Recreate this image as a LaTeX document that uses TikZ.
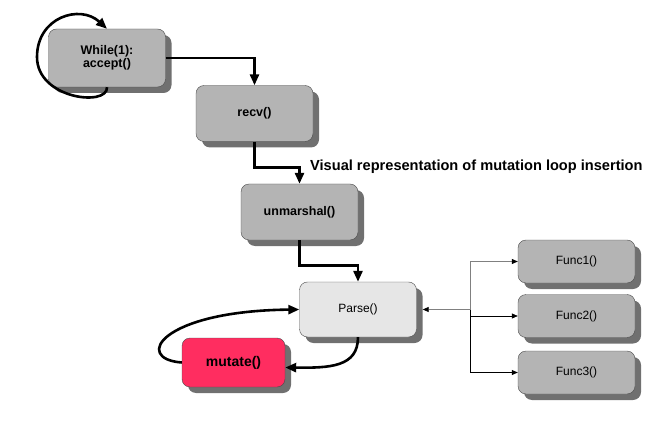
\documentclass[tikz,border=0pt]{standalone}
\usepackage{fontspec}
\setmainfont{Liberation Sans}
\usepackage{xcolor,tikz}
\usetikzlibrary{arrows.meta,positioning,shadows}
\definecolor{boxgray}{RGB}{180,180,180}
\definecolor{lightbox}{RGB}{230,230,230}
\definecolor{shadowgray}{RGB}{112,112,112}
\definecolor{mutred}{RGB}{255,45,96}

\begin{document}
\begin{tikzpicture}[x=1pt,y=1pt,
 box/.style={draw=black!70,rounded corners=8pt,fill=boxgray,minimum width=117pt,
  minimum height=56pt,inner sep=0pt,align=center,
  drop shadow={shadow xshift=6pt,shadow yshift=-6pt,fill=shadowgray,opacity=1},
  font=\fontsize{12.5}{13}\selectfont\bfseries},
 funcbox/.style={box,minimum height=43pt,font=\fontsize{12}{14}\selectfont},
 flow/.style={line width=2.6pt,-{Triangle[length=11pt,width=9pt]}},
 tree/.style={line width=0.7pt,-{Triangle[length=6pt,width=5pt,color=black]}}]
 \useasboundingbox (0,0) rectangle (669,429);
 \node[box,minimum height=58pt] (loop) at (107,371) {While(1):\\accept()};
 \node[box] (recv) at (254.5,315.5) {recv()};
 \node[box] (unmarshal) at (299.5,217) {unmarshal()};
 \node[box,fill=lightbox,minimum height=55pt,font=\fontsize{12}{14}\selectfont] (parse) at (358,119.5) {Parse()};
 \node[box,fill=mutred,minimum width=103pt,minimum height=49pt,font=\fontsize{14}{16}\selectfont\bfseries] (mutate) at (233.5,66.5) {mutate()};
 \node[funcbox] (func1) at (576.5,167.5) {Func1()};
 \node[funcbox] (func2) at (576.5,113) {Func2()};
 \node[funcbox] (func3) at (576.5,56.5) {Func3()};
 \node[anchor=west,inner sep=0pt,font=\fontsize{14.6}{16}\selectfont\bfseries] (caption) at (310,262) {Visual representation of mutation loop insertion};
 \draw[flow] (loop.south) .. controls (108,322) and (37,330) .. (37,372)
  .. controls (37,412) and (80,425) .. (loop.north);
 \draw[flow] (loop.east) -| (recv.north);
 \draw[flow] (recv.south) -- ++(0,-26) -| (unmarshal.north);
 \draw[flow] (unmarshal.south) -- ++(0,-25) -| (parse.north);
 \draw[flow] (parse.south) .. controls (358,62) and (330,61) .. ([yshift=-5pt]mutate.east);
 \draw[flow] (mutate.west) .. controls (133,70) and (160,118) .. (parse.west);
 \coordinate (fork) at (470,119.5);
 \draw[tree,draw=gray] (fork) -- ([xshift=6pt]parse.east);
 \draw[tree,draw=gray] (fork) |- (func1.west);
 \draw[tree] (fork) |- (func3.west);
 \draw[tree] (func2.west -| fork) -- (func2.west);
\end{tikzpicture}
\end{document}
